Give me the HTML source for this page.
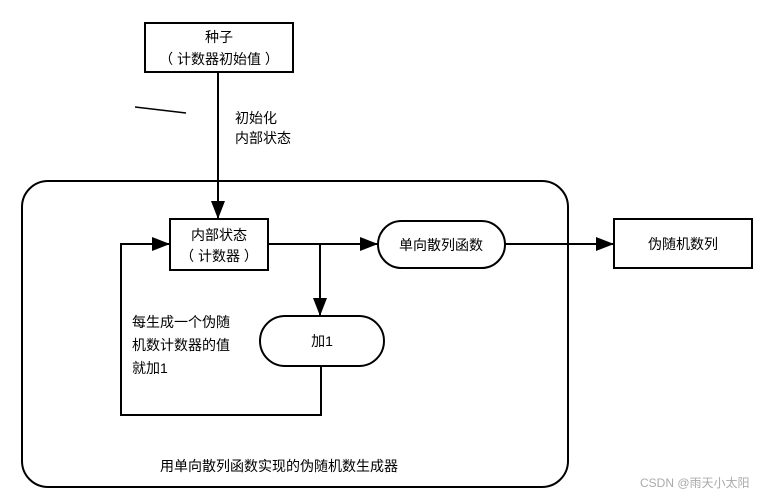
<!DOCTYPE html>
<html><head><meta charset="utf-8"><style>
body{margin:0;background:#fff;}
svg text{font-family:"Liberation Sans","Noto Sans CJK SC",sans-serif;fill:#000;}
</style></head><body>
<svg width="775" height="496" viewBox="0 0 775 496" xmlns="http://www.w3.org/2000/svg">
<defs><marker id="a" markerWidth="10" markerHeight="10" refX="9" refY="5" orient="auto" markerUnits="userSpaceOnUse"><path d="M0,0 L10,5 L0,10 z" fill="#000"/></marker>
<marker id="b" markerWidth="20" markerHeight="14" refX="18" refY="7" orient="auto" markerUnits="userSpaceOnUse"><path d="M0,0 L18,7 L0,14 z" fill="#000"/></marker></defs>
<rect x="22" y="181" width="546" height="306" rx="26" fill="none" stroke="#000" stroke-width="2"/>
<rect x="145" y="23" width="148" height="49" fill="#fff" stroke="#000" stroke-width="2"/>
<text x="219" y="42" font-size="14" text-anchor="middle">种子</text>
<text x="219" y="64" font-size="14" text-anchor="middle">（ 计数器初始值 ）</text>
<line x1="218" y1="72" x2="218" y2="219" stroke="#000" stroke-width="2" marker-end="url(#b)"/>
<line x1="135" y1="107" x2="186" y2="113" stroke="#000" stroke-width="1.5"/>
<text x="235" y="123" font-size="14">初始化</text>
<text x="235" y="143" font-size="14">内部状态</text>
<rect x="170" y="219" width="98" height="51" fill="#fff" stroke="#000" stroke-width="2"/>
<text x="219" y="240" font-size="14" text-anchor="middle">内部状态</text>
<text x="219" y="261" font-size="14" text-anchor="middle">（ 计数器 ）</text>
<line x1="268" y1="244" x2="378" y2="244" stroke="#000" stroke-width="2" marker-end="url(#b)"/>
<rect x="378" y="221" width="127" height="47" rx="23.5" fill="#fff" stroke="#000" stroke-width="2"/>
<text x="441" y="250" font-size="14" text-anchor="middle">单向散列函数</text>
<line x1="505" y1="244" x2="614" y2="244" stroke="#000" stroke-width="2" marker-end="url(#b)"/>
<rect x="614" y="219" width="138" height="49" fill="#fff" stroke="#000" stroke-width="2"/>
<text x="683" y="249" font-size="14" text-anchor="middle">伪随机数列</text>
<line x1="320" y1="244" x2="320" y2="316" stroke="#000" stroke-width="2" marker-end="url(#b)"/>
<rect x="260" y="316" width="124" height="50" rx="25" fill="#fff" stroke="#000" stroke-width="2"/>
<text x="322" y="346" font-size="14" text-anchor="middle">加1</text>
<polyline points="321,366 321,415 121,415 121,244 170,244" fill="none" stroke="#000" stroke-width="2" marker-end="url(#b)"/>
<text x="132" y="327" font-size="14">每生成一个伪随</text>
<text x="132" y="350" font-size="14">机数计数器的值</text>
<text x="132" y="373" font-size="14">就加1</text>
<text x="160" y="471" font-size="14">用单向散列函数实现的伪随机数生成器</text>
<text x="640" y="487" font-size="12" style="fill:#aaa">CSDN @雨天小太阳</text>
</svg>
</body></html>
